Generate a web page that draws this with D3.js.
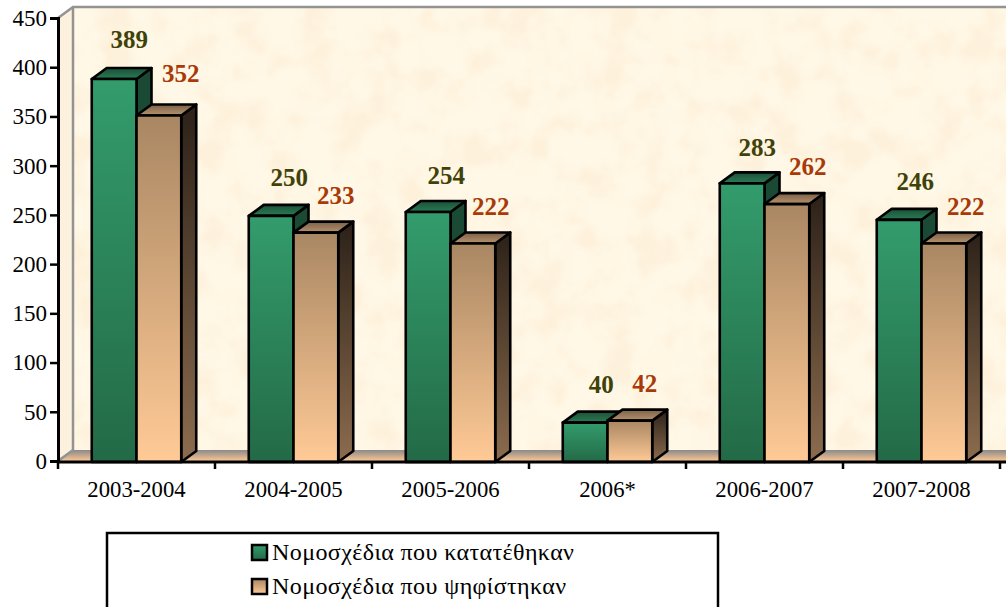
<!DOCTYPE HTML>
<HTML>
  <HEAD>
    <TITLE>Nomoschedia</TITLE>
    <meta charset="utf-8">
    <script src="https://d3js.org/d3.v7.min.js" charset="utf-8"></script>
    <style>
      body { margin: 0; background: white; overflow: hidden; }
      text { font-family: "Liberation Serif", serif; }
    </style>
  </HEAD>
  <BODY>

  <script type="text/javascript">

    var categories = ["2003-2004", "2004-2005", "2005-2006", "2006*", "2006-2007", "2007-2008"];
    var submitted = [389, 250, 254, 40, 283, 246];
    var passed = [352, 233, 222, 42, 262, 222];
    var seriesNames = ["Νομοσχέδια που κατατέθηκαν", "Νομοσχέδια που ψηφίστηκαν"];
    var yTicks = [0, 50, 100, 150, 200, 250, 300, 350, 400, 450];

    var w = 1006;
    var h = 607;

    // plot box, and how far the 3d depth pushes back
    var left = 58, right = 1000, top0 = 18, bottom = 461;
    var depthX = 15, depthY = 11;

    var svg = d3.select("body").append("svg")
      .attr("width", w)
      .attr("height", h)
      .style("display", "block");

    var defs = svg.append("defs");

    var addGradient = function(id, c1, c2) {
      var g = defs.append("linearGradient")
        .attr("id", id)
        .attr("x1", 0).attr("y1", 0)
        .attr("x2", 0).attr("y2", 1);
      g.append("stop").attr("offset", "0%").attr("stop-color", c1);
      g.append("stop").attr("offset", "100%").attr("stop-color", c2);
    };

    addGradient("greenFront", "#339c6c", "#236a47");
    addGradient("greenSide", "#1a4a33", "#1a4a33");
    addGradient("greenTop", "#1c5038", "#2a7c55");
    addGradient("tanFront", "#a98763", "#ffca96");
    addGradient("tanSide", "#2c2118", "#8c6c4e");
    addGradient("tanTop", "#7a6048", "#b8936e");
    addGradient("floor", "#8a8a8a", "#fcc692");

    // mottled paper look of the back wall
    var paper = defs.append("filter")
      .attr("id", "paper")
      .attr("x", 0).attr("y", 0)
      .attr("width", 1).attr("height", 1)
      .attr("color-interpolation-filters", "sRGB");
    paper.append("feTurbulence")
      .attr("type", "fractalNoise")
      .attr("baseFrequency", 0.03)
      .attr("numOctaves", 3)
      .attr("seed", 4)
      .attr("result", "noise");
    paper.append("feColorMatrix")
      .attr("in", "noise")
      .attr("type", "matrix")
      .attr("values", "0 0 0 0 0.995  0 0 0 0 0.945  0 0 0 0 0.86  3 0 0 0 -1.2")
      .attr("result", "spots");
    paper.append("feMerge").selectAll("feMergeNode")
      .data(["SourceGraphic", "spots"])
      .enter()
      .append("feMergeNode")
      .attr("in", function(d) { return d; });

    var x = d3.scaleBand()
      .domain(categories)
      .range([left, right])
      .paddingInner(0.43)
      .paddingOuter(0.215);

    var y = d3.scaleLinear()
      .domain([0, 450])
      .range([bottom, top0]);

    var sub = d3.scaleBand()
      .domain([0, 1])
      .range([0, x.bandwidth()]);

    // walls and floor
    svg.append("rect")
      .attr("x", left + depthX)
      .attr("y", top0 - depthY)
      .attr("width", w - left - depthX)
      .attr("height", bottom - top0)
      .attr("fill", "#fff8e7")
      .attr("filter", "url(#paper)");

    svg.append("polygon")
      .attr("points", [[left, top0], [left + depthX, top0 - depthY], [left + depthX, bottom - depthY], [left, bottom]].join(" "))
      .attr("fill", "#fbf1dd");

    svg.append("polygon")
      .attr("points", [[left, bottom], [left + depthX, bottom - depthY], [w, bottom - depthY], [w, bottom]].join(" "))
      .attr("fill", "url(#floor)");

    svg.append("path")
      .attr("d", "M" + left + "," + top0 + "L" + (left + depthX) + "," + (top0 - depthY) + "H" + w)
      .attr("fill", "none")
      .attr("stroke", "#939393")
      .attr("stroke-width", 2.5);

    svg.append("path")
      .attr("d", "M" + (left + depthX) + "," + (top0 - depthY) + "V" + (bottom - depthY) + "L" + left + "," + bottom)
      .attr("fill", "none")
      .attr("stroke", "#939393")
      .attr("stroke-width", 2.5);

    // one 3d box
    var drawBar = function(g, bx, bw, value, style) {
      var yt = y(value);
      var faces = [
        {fill: style + "Side", pts: [[bx + bw, yt], [bx + bw + depthX, yt - depthY], [bx + bw + depthX, bottom - depthY], [bx + bw, bottom]]},
        {fill: style + "Top", pts: [[bx, yt], [bx + depthX, yt - depthY], [bx + bw + depthX, yt - depthY], [bx + bw, yt]]},
        {fill: style + "Front", pts: [[bx, yt], [bx + bw, yt], [bx + bw, bottom], [bx, bottom]]}
      ];

      g.selectAll("polygon.f" + style + Math.round(bx))
        .data(faces)
        .enter()
        .append("polygon")
        .attr("points", function(d) { return d.pts.join(" "); })
        .attr("fill", function(d) { return "url(#" + d.fill + ")"; })
        .attr("stroke", "black")
        .attr("stroke-width", 2.6)
        .attr("stroke-linejoin", "round");
    };

    var bars = svg.append("g")
      .attr("transform", "translate(0,1)");

    categories.forEach(function(c, i) {
      drawBar(bars, x(c) + sub(0), sub.bandwidth(), submitted[i], "green");
      drawBar(bars, x(c) + sub(1), sub.bandwidth(), passed[i], "tan");
    });

    // value labels sit up and to the right of each box, the original placed them a bit unevenly
    var submittedNudge = [[-2, -2], [1, -1], [1, 1], [-1, -1], [-2, 2], [-1, -1]];
    var passedNudge = [[3, -5], [1, -1], [-1, 0], [-4, -1], [2, -1], [3, 0]];

    var addLabels = function(values, idx, color, dx, dy, nudge) {
      svg.append("g").selectAll("text")
        .data(values)
        .enter()
        .append("text")
        .text(function(d) { return d; })
        .attr("x", function(d, i) { return x(categories[i]) + sub(idx) + sub.bandwidth() / 2 + dx + nudge[i][0]; })
        .attr("y", function(d, i) { return y(d) + dy + nudge[i][1]; })
        .attr("text-anchor", "middle")
        .attr("font-size", 25)
        .attr("font-weight", "bold")
        .attr("fill", color);
    };

    addLabels(submitted, 0, "#3f4208", 17, -28, submittedNudge);
    addLabels(passed, 1, "#a83a08", 19, -27, passedNudge);

    // axes
    var yAxis = svg.append("g")
      .attr("transform", "translate(" + left + ",0)")
      .call(d3.axisLeft(y).tickValues(yTicks).tickSize(8).tickPadding(3));

    yAxis.selectAll("text").attr("font-size", 23).attr("fill", "black").style("font-family", "\"Liberation Serif\", serif");
    yAxis.selectAll("line").attr("stroke", "black").attr("stroke-width", 2.5);
    yAxis.select(".domain").attr("stroke", "black").attr("stroke-width", 3);

    var xAxis = svg.append("g")
      .attr("transform", "translate(0," + bottom + ")")
      .call(d3.axisBottom(x).tickSize(0).tickPadding(20));

    xAxis.selectAll("text").attr("font-size", 22.7).attr("fill", "black").style("font-family", "\"Liberation Serif\", serif");
    xAxis.select(".domain").remove();

    svg.append("line")
      .attr("x1", left).attr("x2", w)
      .attr("y1", bottom + 1).attr("y2", bottom + 1)
      .attr("stroke", "black")
      .attr("stroke-width", 3);

    svg.append("g").selectAll("line")
      .data(d3.range(categories.length + 1))
      .enter()
      .append("line")
      .attr("x1", function(d) { return left + d * x.step(); })
      .attr("x2", function(d) { return left + d * x.step(); })
      .attr("y1", bottom)
      .attr("y2", bottom + 8)
      .attr("stroke", "black")
      .attr("stroke-width", 2.5);

    // legend, runs off the bottom of the picture
    svg.append("rect")
      .attr("x", 107)
      .attr("y", 533)
      .attr("width", 611)
      .attr("height", 90)
      .attr("fill", "white")
      .attr("stroke", "black")
      .attr("stroke-width", 2.5);

    var legend = svg.append("g").selectAll("g")
      .data(seriesNames)
      .enter()
      .append("g")
      .attr("transform", function(d, i) { return "translate(252," + (545 + i * 34) + ")"; });

    legend.append("rect")
      .attr("width", 15)
      .attr("height", 15)
      .attr("fill", function(d, i) { return i == 0 ? "url(#greenFront)" : "url(#tanFront)"; })
      .attr("stroke", "black")
      .attr("stroke-width", 2.5);

    legend.append("text")
      .text(function(d) { return d; })
      .attr("x", 20)
      .attr("y", 15)
      .attr("font-size", 24)
      .attr("letter-spacing", 0.4)
      .attr("fill", "black");

  </script>
  </BODY>
</HTML>
